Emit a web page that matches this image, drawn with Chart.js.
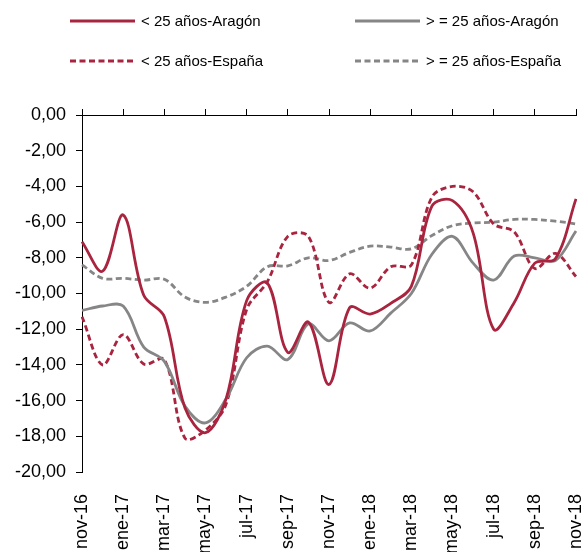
<!DOCTYPE html>
<html>
<head>
<meta charset="utf-8">
<script src="https://cdn.jsdelivr.net/npm/chart.js@4/dist/chart.umd.min.js"></script>
<style>
html,body{margin:0;padding:0;background:#fff;}
#wrap{width:587px;height:552px;position:relative;}
</style>
</head>
<body>
<div id="wrap"><canvas id="c" width="587" height="552"></canvas></div>
<script>
const months = ["nov-16","dic-16","ene-17","feb-17","mar-17","abr-17","may-17","jun-17","jul-17","ago-17","sep-17","oct-17","nov-17","dic-17","ene-18","feb-18","mar-18","abr-18","may-18","jun-18","jul-18","ago-18","sep-18","oct-18","nov-18"];
const seriesNames = ["< 25 años-Aragón", "> = 25 años-Aragón", "< 25 años-España", "> = 25 años-España"];
const aragonMenor25 = [-7.1,-8.75,-5.6,-10.1,-11.3,-16.4,-17.8,-15.9,-10.4,-9.4,-13.3,-11.6,-15.1,-10.8,-11.15,-10.55,-9.6,-5.1,-4.8,-6.6,-12.0,-10.5,-8.3,-8.05,-4.7];
const aragonMayor25 = [-10.95,-10.7,-10.7,-13.0,-13.8,-16.3,-17.25,-15.9,-13.6,-12.95,-13.7,-11.7,-12.65,-11.65,-12.1,-11.1,-10.0,-7.8,-6.8,-8.3,-9.25,-7.9,-8.0,-8.15,-6.5];
const espanaMenor25 = [-11.3,-14.0,-12.3,-13.95,-13.7,-18.1,-17.65,-16.2,-10.9,-9.35,-6.8,-6.8,-10.5,-8.9,-9.7,-8.5,-8.4,-4.6,-4.0,-4.3,-6.1,-6.55,-8.6,-7.75,-9.05];
const espanaMayor25 = [-8.4,-9.15,-9.15,-9.25,-9.2,-10.2,-10.5,-10.2,-9.6,-8.5,-8.45,-8.0,-8.15,-7.7,-7.35,-7.4,-7.5,-6.75,-6.2,-6.05,-6.0,-5.85,-5.85,-5.95,-6.1];
const yTicks = {min:-20, max:0, step:2};

const RED = '#A9243F';
const GREY = '#868686';
const FONT = "'Liberation Sans', Arial, sans-serif";
Chart.defaults.font.family = FONT;

const legendPlugin = {
  id: 'customLegend',
  afterDraw(chart) {
    const ctx = chart.ctx;
    const pos = [[70,21],[355,21],[70,61],[355,61]];
    chart.data.datasets.forEach((ds,i)=>{
      const [x,y] = pos[i];
      ctx.save();
      ctx.strokeStyle = ds.borderColor;
      ctx.lineWidth = ds.borderWidth;
      ctx.setLineDash(ds.borderDash || []);
      ctx.beginPath(); ctx.moveTo(x,y); ctx.lineTo(x+65,y); ctx.stroke();
      ctx.setLineDash([]);
      ctx.fillStyle = '#000';
      ctx.font = "15px " + FONT;
      ctx.textBaseline = 'middle';
      ctx.fillText(ds.label, x+71, y+1);
      ctx.restore();
    });
  }
};

function ds(label, data, color, dashed) {
  return {label, data, borderColor: color, backgroundColor: color, borderWidth: 2.8,
    borderDash: dashed ? [6,3.5] : [], pointRadius: 0, tension: 0.35, fill: false, xAxisID: 'x'};
}

new Chart(document.getElementById('c'), {
  type: 'line',
  data: {
    labels: months,
    datasets: [
      ds(seriesNames[0], aragonMenor25, RED, false),
      ds(seriesNames[1], aragonMayor25, GREY, false),
      ds(seriesNames[2], espanaMenor25, RED, true),
      ds(seriesNames[3], espanaMayor25, GREY, true)
    ]
  },
  options: {
    responsive: false,
    animation: false,
    devicePixelRatio: 1,
    layout: {padding: {top: 115, right: 11, left: 0, bottom: 0}},
    plugins: {legend: {display: false}, tooltip: {enabled: false}},
    scales: {
      x: {
        type: 'category', position: 'bottom', offset: false,
        grid: {display: false}, border: {display: false},
        ticks: {autoSkip: false, maxRotation: 90, minRotation: 90, padding: 14, color: '#000',
          font: {size: 18}, callback: (v, i) => (i % 2 === 0 ? months[i] : '')},
        afterFit: s => { s.height = 80; s.paddingLeft = 0; s.paddingRight = 0; }
      },
      x2: {
        type: 'category', position: 'top', labels: months, offset: false,
        grid: {drawOnChartArea: false, tickLength: 6, color: c => (c.index % 2 === 0 ? '#000' : 'rgba(0,0,0,0)')},
        border: {display: true, color: '#000', width: 1},
        ticks: {display: false, autoSkip: false},
        afterFit: s => { s.height = 0; s.paddingLeft = 0; s.paddingRight = 0; }
      },
      y: {
        min: yTicks.min, max: yTicks.max,
        ticks: {stepSize: yTicks.step, padding: 10, color: '#000', font: {size: 18},
          callback: v => v.toFixed(2).replace('.', ',')},
        grid: {drawOnChartArea: false, tickLength: 6, color: '#000'},
        border: {color: '#000', width: 1},
        afterFit: s => { s.width = 82; }
      }
    }
  },
  plugins: [legendPlugin]
});
</script>
</body>
</html>
